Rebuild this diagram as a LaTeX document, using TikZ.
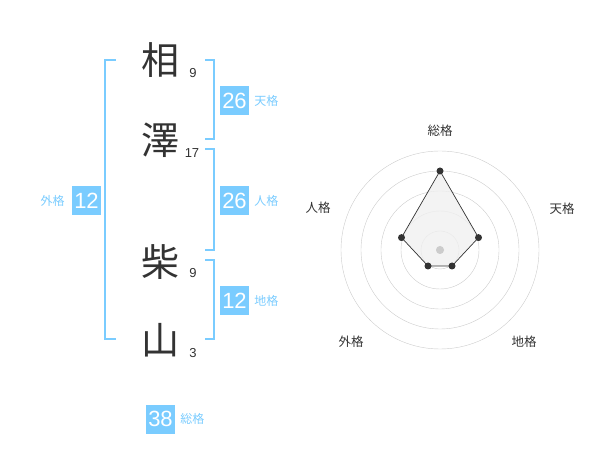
\documentclass[tikz,border=0pt]{standalone}
\usepackage{fontspec}
\setmainfont{Liberation Sans}
\newfontfamily\cjk{Noto Sans CJK JP}
\usetikzlibrary{positioning}
\definecolor{kaku}{RGB}{122,204,255}
\definecolor{ink}{RGB}{51,51,51}
\definecolor{ring}{RGB}{204,204,204}
\definecolor{area}{RGB}{240,240,240}

\begin{document}
\begin{tikzpicture}[x=1pt, y=-1pt,
  kanji/.style={text=ink, inner sep=0, font=\cjk\fontsize{38}{38}\selectfont},
  strokes/.style={text=ink, inner sep=0, font=\fontsize{13}{13}\selectfont},
  kakubox/.style={fill=kaku, text=white, inner sep=0, minimum size=29pt, font=\fontsize{22}{22}\selectfont},
  kakuname/.style={text=kaku, inner sep=0, font=\cjk\fontsize{12}{12}\selectfont},
  bracket/.style={draw=kaku, line width=2pt},
  axisname/.style={text=ink, inner sep=0, font=\cjk\fontsize{12.5}{12.5}\selectfont},
  dot/.style={circle, fill=ink, inner sep=0, minimum size=7pt}]
\useasboundingbox (0,0) rectangle (600,470);

% name
\node[kanji] (a) at (160,60) {相};
\node[kanji] (b) at (160,140) {澤};
\node[kanji] (c) at (160,262) {柴};
\node[kanji] (d) at (160,340) {山};
\node[strokes] (a1) at (193,73) {9};
\node[strokes] (b1) at (192,153) {17};
\node[strokes] (c1) at (193,273) {9};
\node[strokes] (d1) at (193,353) {3};

% brackets
\draw[bracket] (115.5,60) -- (105,60) -- (105,339) -- (115.5,339);
\draw[bracket] (205,60) -- (214,60) -- (214,139) -- (205,139);
\draw[bracket] (205,149) -- (214,149) -- (214,250) -- (205,250);
\draw[bracket] (205,260) -- (214,260) -- (214,339) -- (205,339);

% scores
\node[kakubox] (ten) at (234.5,100.5) {26};
\node[kakubox] (jin) at (234.5,200.5) {26};
\node[kakubox] (chi) at (234.5,300.5) {12};
\node[kakubox] (gai) at (86.5,200.5) {12};
\node[kakubox] (sou) at (160.5,419) {38};
\node[kakuname, right=5pt of ten] (ten1) {天格};
\node[kakuname, right=5pt of jin] (jin1) {人格};
\node[kakuname, right=5pt of chi] (chi1) {地格};
\node[kakuname, left=7pt of gai] (gai1) {外格};
\node[kakuname, right=5pt of sou] (sou1) {総格};

% radar
\coordinate (o) at (440,250);
\draw[ring] (o) circle (99);
\draw[ring] (o) circle (79);
\draw[ring] (o) circle (59);
\draw[ring] (o) circle (39);
\draw[ring] (o) circle (19);
\fill[ring] (o) circle (4);

\node[axisname] (rsou) at (440,131) {総格};
\node[axisname] (rten) at (562,209) {天格};
\node[axisname] (rchi) at (524,342) {地格};
\node[axisname] (rgai) at (351,342) {外格};
\node[axisname] (rjin) at (318,208) {人格};

\coordinate (p1) at (440,171);
\coordinate (p2) at (478.5,237.6);
\coordinate (p3) at (452,266);
\coordinate (p4) at (428,266);
\coordinate (p5) at (401.5,237.6);
\filldraw[fill=area, fill opacity=0.8, draw=ink, line width=0.7pt] (p1) -- (p2) -- (p3) -- (p4) -- (p5) -- cycle;
\fill[ring] (o) circle (4);
\node[dot] at (p1) {};
\node[dot] at (p2) {};
\node[dot] at (p3) {};
\node[dot] at (p4) {};
\node[dot] at (p5) {};
\end{tikzpicture}
\end{document}
